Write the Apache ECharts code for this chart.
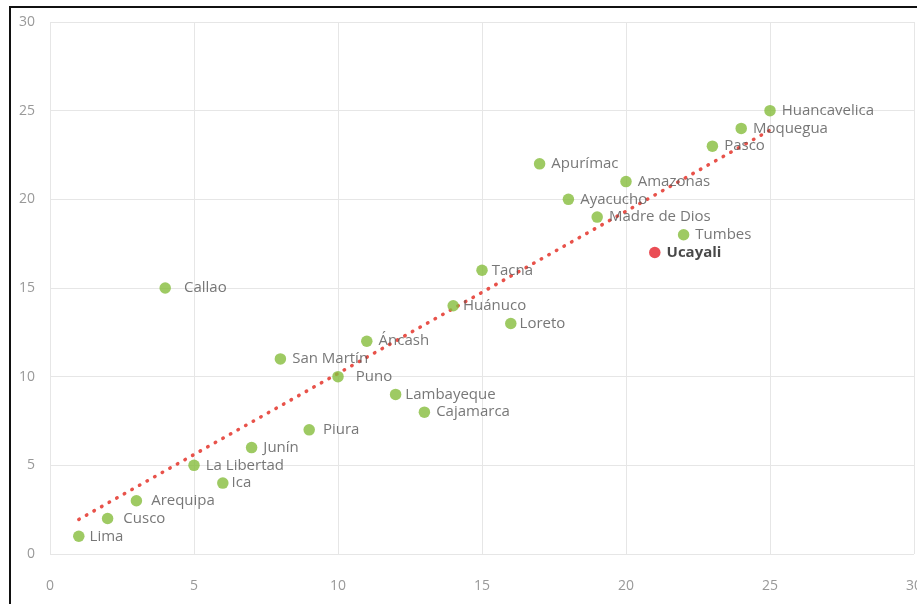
<!DOCTYPE html>
<html>
<head>
<meta charset="utf-8">
<script src="https://cdn.jsdelivr.net/npm/echarts@6/dist/echarts.min.js"></script>
<style>
  html, body { margin: 0; padding: 0; background: #fff; overflow: hidden; width: 917px; height: 604px; }
  #chart { position: absolute; left: 0; top: 0; width: 917px; height: 604px; }
  #frame { position: absolute; left: 9px; top: 6px; width: 908px; height: 598px; border-left: 2.5px solid #111; border-top: 2.5px solid #111; box-sizing: border-box; z-index: 5; pointer-events: none; }
</style>
</head>
<body>
<div id="chart"></div>
<div id="frame"></div>
<script>
// Data
const regions = ["Lima","Cusco","Arequipa","Callao","La Libertad","Ica","Junín","San Martín","Piura","Puno","Áncash","Lambayeque","Cajamarca","Huánuco","Tacna","Loreto","Apurímac","Ayacucho","Madre de Dios","Amazonas","Ucayali","Tumbes","Pasco","Moquegua","Huancavelica"];
const xValues = [1,2,3,4,5,6,7,8,9,10,11,12,13,14,15,16,17,18,19,20,21,22,23,24,25];
const yValues = [1,2,3,15,5,4,6,11,7,10,12,9,8,14,16,13,22,20,19,21,17,18,23,24,25];
const highlighted = ["Ucayali"];
const trendX = [1, 25];
const trendY = [1.95, 23.9];
const axisTicks = [0, 5, 10, 15, 20, 25, 30];

// label placement tweaks (style, not data)
const labelTweaks = {
  "Callao": { distance: 13, offset: [0, 4] },
  "Puno": { distance: 12, offset: [0, 9] },
  "Cusco": { distance: 10, offset: [0, 5] },
  "Arequipa": { distance: 9 },
  "Ica": { distance: 3, offset: [0, 4] },
  "Lima": { distance: 5, offset: [0, 3] },
  "Junín": { distance: 6 },
  "Piura": { distance: 8 },
  "Huánuco": { distance: 4 },
  "Tacna": { distance: 4 },
  "Loreto": { distance: 3 },
  "Lambayeque": { distance: 4 },
  "Amazonas": { distance: 6 }
};

const green = "#86bd3c";
const red = "#e5202a";

const points = regions.map((name, i) => {
  const isHi = highlighted.includes(name);
  const t = labelTweaks[name] || {};
  return {
    name: name,
    value: [xValues[i], yValues[i]],
    itemStyle: { color: isHi ? red : green },
    label: {
      show: true,
      position: "right",
      distance: t.distance !== undefined ? t.distance : 6,
      offset: t.offset || [0, 1],
      formatter: name,
      color: isHi ? "#1a1a1a" : "#555555",
      fontWeight: isHi ? "bold" : "normal",
      fontSize: 15,
      fontFamily: "'Open Sans', 'Noto Sans', sans-serif"
    }
  };
});

const chart = echarts.init(document.getElementById("chart"), null, { renderer: "canvas" });
const axisLabelStyle = { color: "#999999", fontSize: 14, fontFamily: "'Open Sans', sans-serif" };
const gridLine = { show: true, lineStyle: { color: "#e6e6e6", width: 1 } };

chart.setOption({
  animation: false,
  backgroundColor: "#fff",
  grid: { left: 50, right: 3, top: 22, bottom: 50, containLabel: false, outerBoundsMode: "none" },
  xAxis: {
    type: "value", min: axisTicks[0], max: axisTicks[axisTicks.length - 1], interval: 5,
    axisLine: { show: false }, axisTick: { show: false },
    axisLabel: Object.assign({ margin: 25 }, axisLabelStyle),
    splitLine: gridLine
  },
  yAxis: {
    type: "value", min: axisTicks[0], max: axisTicks[axisTicks.length - 1], interval: 5,
    axisLine: { show: false }, axisTick: { show: false },
    axisLabel: Object.assign({ margin: 15 }, axisLabelStyle),
    splitLine: gridLine
  },
  series: [
    {
      type: "line",
      data: trendX.map((x, i) => [x, trendY[i]]),
      symbol: "none",
      lineStyle: { color: "#e8524a", width: 3.5, type: [0.5, 8.2], cap: "round" },
      z: 3,
      silent: true
    },
    {
      type: "scatter",
      data: points,
      symbolSize: 11.5,
      z: 4,
      labelLayout: { hideOverlap: false }
    }
  ]
});
</script>
</body>
</html>
